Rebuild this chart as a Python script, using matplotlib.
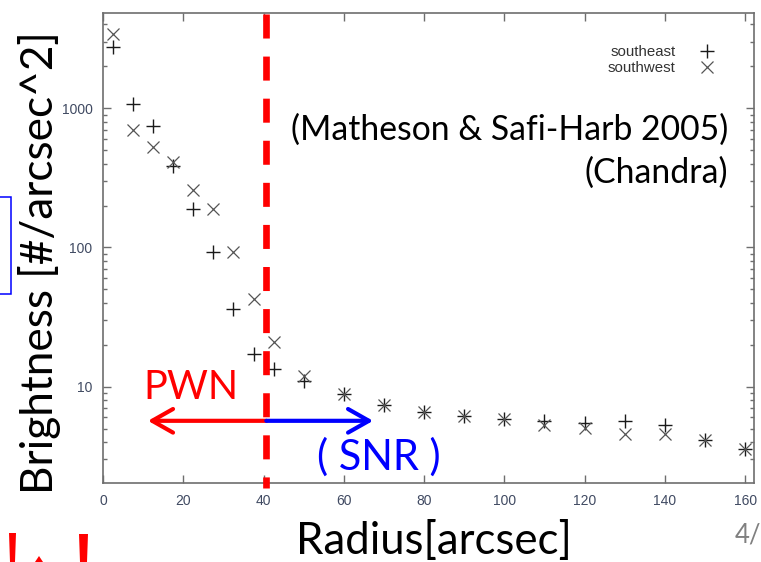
import matplotlib
matplotlib.use("Agg")
import matplotlib.pyplot as plt
from matplotlib.patches import FancyArrowPatch, Rectangle, Polygon
from matplotlib.ticker import LogLocator, NullFormatter, FixedLocator
import matplotlib.transforms as mtransforms

# Radial brightness profile of the remnant (Chandra)
radius = [2.5, 7.5, 12.5, 17.5, 22.5, 27.5, 32.5, 37.5, 42.5,
          50, 60, 70, 80, 90, 100, 110, 120, 130, 140, 150, 160]
southeast = [2770, 1068, 744, 387, 190, 93, 35.9, 17.1, 13.4,
             10.9, 8.9, 7.4, 6.6, 6.2, 5.87, 5.65, 5.44, 5.65, 5.26, 4.13, 3.55]
southwest = [3420, 696, 529, 409, 259, 190, 93, 42.3, 20.9,
             12.0, 8.9, 7.4, 6.6, 6.2, 5.87, 5.26, 5.01, 4.54, 4.54, 4.13, 3.55]
x_ticks = [0, 20, 40, 60, 80, 100, 120, 140, 160]
y_ticks = [10, 100, 1000]
boundary = 40.7

W, H = 761, 562
plt.rcParams['lines.scale_dashes'] = False
fig = plt.figure(figsize=(W / 100, H / 100), dpi=100)
fig.patch.set_facecolor('white')


def fx(px):
    return px / W


def fy(py):
    return 1 - py / H


ax = fig.add_axes([fx(103), fy(483.3), fx(754) - fx(103), fy(12.7) - fy(483.3)])
ax.set_yscale('log')
ax.set_xlim(0, 162.2)
ax.set_ylim(2.02, 4860)

ax.plot(radius, southeast, linestyle='none', marker='+', markersize=10,
        markeredgewidth=1.0, color='#1a1a1a', label='southeast')
ax.plot(radius, southwest, linestyle='none', marker='x', markersize=8.5,
        markeredgewidth=0.9, color='#555555', label='southwest')

spine_col = '#6e6e6e'
for s in ax.spines.values():
    s.set_color(spine_col)
    s.set_linewidth(1.2)

tick_col = '#404a62'
ax.xaxis.set_major_locator(FixedLocator(x_ticks))
ax.yaxis.set_major_locator(FixedLocator(y_ticks))
ax.yaxis.set_minor_locator(LogLocator(base=10, subs=range(2, 10)))
ax.yaxis.set_minor_formatter(NullFormatter())
ax.set_xticklabels([str(v) for v in x_ticks])
ax.set_yticklabels([str(v) for v in y_ticks])
ax.tick_params(which='both', direction='in', top=True, right=True,
               color=spine_col, width=1.0, labelcolor=tick_col)
ax.tick_params(which='major', length=5.5, labelsize=10, pad=7.5)
ax.tick_params(which='minor', length=3)
for lab in ax.get_xticklabels() + ax.get_yticklabels():
    lab.set_family('Liberation Sans')

# PWN / SNR boundary
trans = mtransforms.blended_transform_factory(ax.transData, ax.transAxes)
ax.plot([boundary, boundary], [0.997, -0.009], transform=trans, color='#ff0000',
        linewidth=4.8, linestyle=(0, (17.3, 13)), clip_on=False, solid_capstyle='butt',
        dash_capstyle='butt', zorder=5)

arrow_y = 5.68
ax.add_patch(FancyArrowPatch((boundary, arrow_y), (11.2, arrow_y),
                             arrowstyle='->,head_length=15,head_width=8.5',
                             mutation_scale=1, color='#ff0000', linewidth=3.0,
                             shrinkA=0, shrinkB=0, zorder=6))
ax.add_patch(FancyArrowPatch((boundary, arrow_y), (67.3, arrow_y),
                             arrowstyle='->,head_length=15,head_width=8.5',
                             mutation_scale=1, color='#0000ff', linewidth=3.0,
                             shrinkA=0, shrinkB=0, zorder=6))

ax.legend(loc='upper right', bbox_to_anchor=(fx(722), fy(45)),
          bbox_transform=fig.transFigure, frameon=False, markerfirst=False,
          prop={'family': 'Liberation Sans', 'size': 10.8},
          handlelength=2.0, handletextpad=1.1, labelspacing=0.12,
          borderpad=0, borderaxespad=0, labelcolor='#333333')

big = 'Lato'
fig.text(fx(143), fy(399), 'PWN', color='#ff0000', fontsize=28.5, family=big,
         ha='left', va='baseline')
fig.text(fx(317), fy(470), '( SNR )', color='#0000ff', fontsize=30, family=big,
         ha='left', va='baseline')
fig.text(fx(728.5), fy(139.5), '(Matheson & Safi-Harb 2005)', color='black',
         fontsize=24.3, family=big, ha='right', va='baseline')
fig.text(fx(728.5), fy(183), '(Chandra)', color='black',
         fontsize=24.3, family=big, ha='right', va='baseline')

fig.text(fx(40), fy(262.5), 'Brightness [#/arcsec^2]', rotation=90, color='black',
         fontsize=31.8, family=big, ha='center', va='center')
fig.text(fx(433.5), fy(554), 'Radius[arcsec]', color='black',
         fontsize=31.5, family=big, ha='center', va='baseline')
fig.text(fx(735), fy(542), '4/', color='#808080', fontsize=18.5, family=big,
         ha='left', va='baseline')

# slide elements around the plot
fig.patches.append(Rectangle((fx(-5), fy(294.3)), fx(16), fy(197.3) - fy(294.3),
                             transform=fig.transFigure, fill=False,
                             edgecolor='#0000ff', linewidth=1.1))
for pts in ([(9, 533), (16, 533), (15, 562), (10, 562)],
            [(79, 534), (88, 534), (87, 562), (80, 562)],
            [(35, 562), (39, 556), (43, 562)]):
    fig.patches.append(Polygon([(fx(a), fy(b)) for a, b in pts], closed=True,
                               transform=fig.transFigure, facecolor='#ff0000',
                               edgecolor='none'))

fig.savefig('out.png', dpi=100)
